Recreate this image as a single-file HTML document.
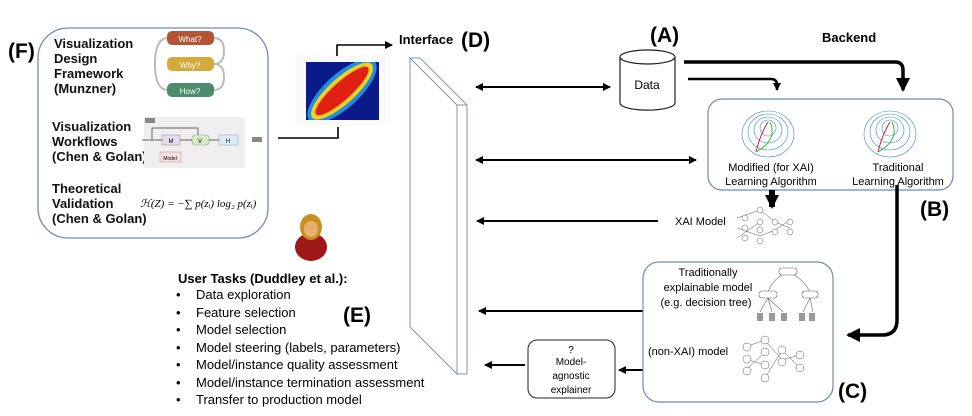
<!DOCTYPE html>
<html><head><meta charset="utf-8"><style>
html,body{margin:0;padding:0;background:#fff;}
svg{display:block;font-family:"Liberation Sans",sans-serif;}
.b{font-weight:bold;}
</style></head><body>
<svg width="972" height="416" viewBox="0 0 972 416" xmlns="http://www.w3.org/2000/svg">
<defs>
<marker id="a" markerWidth="8" markerHeight="8" refX="7" refY="4" orient="auto" markerUnits="userSpaceOnUse"><path d="M0,0 L8,4 L0,8 z" fill="#000"/></marker>
<marker id="ab" markerWidth="14" markerHeight="14" refX="12" refY="7" orient="auto" markerUnits="userSpaceOnUse"><path d="M0,0 L14,7 L0,14 z" fill="#000"/></marker>
<marker id="as" markerWidth="8" markerHeight="8" refX="1" refY="4" orient="auto" markerUnits="userSpaceOnUse"><path d="M8,0 L0,4 L8,8 z" fill="#000"/></marker>
</defs>

<text x="8" y="58" class="b" font-size="21">(F)</text>
<rect x="38" y="28" width="230" height="210" rx="30" fill="#fff" stroke="#6b8cba" stroke-width="1.3"/>
<g class="b" font-size="13" fill="#111">
<text x="54" y="48">Visualization</text><text x="54" y="63">Design</text><text x="54" y="78">Framework</text><text x="54" y="93">(Munzner)</text>
<text x="52" y="131">Visualization</text><text x="52" y="146">Workflows</text><text x="52" y="161">(Chen &amp; Golan)</text>
<text x="52" y="193">Theoretical</text><text x="52" y="208">Validation</text><text x="52" y="223">(Chen &amp; Golan)</text>
</g>
<path d="M168,38 Q155,38 155,64 Q155,90 168,90 M214,38 Q224,38 224,51 Q224,64 214,64 Q224,64 224,77 Q224,90 214,90" fill="none" stroke="#bbb" stroke-width="2"/>
<rect x="167" y="31" width="47" height="14" rx="5" fill="#b35535"/><text x="190" y="42" font-size="8" fill="#fff" text-anchor="middle">What?</text>
<rect x="167" y="57" width="47" height="14" rx="5" fill="#d6a93c"/><text x="190" y="68" font-size="8" fill="#fff" text-anchor="middle">Why?</text>
<rect x="167" y="83" width="47" height="14" rx="5" fill="#4b8b6b"/><text x="190" y="94" font-size="8" fill="#fff" text-anchor="middle">How?</text>
<rect x="144" y="117" width="101" height="51" fill="#efefef"/>
<rect x="162" y="135" width="18" height="10" fill="#e6dcf0" stroke="#99a" stroke-width=".6"/><text x="171" y="143" font-size="6" text-anchor="middle">M</text>
<rect x="192" y="135" width="17" height="10" rx="3" fill="#d7e8c4" stroke="#9a9" stroke-width=".6"/><text x="200" y="143" font-size="6" text-anchor="middle">V</text>
<rect x="219" y="135" width="19" height="10" fill="#dcecf6" stroke="#9ab" stroke-width=".6"/><text x="228" y="143" font-size="6" text-anchor="middle">H</text>
<rect x="160" y="152" width="21" height="10" fill="#f7dede" stroke="#c99" stroke-width=".6"/><text x="170" y="160" font-size="5" text-anchor="middle">Model</text>
<path d="M142,140 H162 M180,140 H192 M209,140 H219 M152,140 V128 H198 V135" fill="none" stroke="#333" stroke-width=".7"/>
<rect x="145" y="118" width="10" height="5" fill="#888"/><rect x="252" y="137" width="10" height="5" fill="#888"/>
<text x="140" y="207" font-family="Liberation Serif,serif" font-size="11" font-style="italic">ℋ(Z) = −∑ p(zᵢ) log₂ p(zᵢ)</text>

<rect x="295" y="55" width="95" height="70" fill="#fafafa"/>
<rect x="306" y="62" width="73" height="58" fill="#0a1a8a"/>
<ellipse cx="342" cy="91" rx="44" ry="17" transform="rotate(-42 342 91)" fill="#1e8fe0"/>
<ellipse cx="342" cy="91" rx="40" ry="13" transform="rotate(-42 342 91)" fill="#f0d020"/>
<ellipse cx="342" cy="91" rx="35" ry="9" transform="rotate(-42 342 91)" fill="#e02010"/>
<rect x="295" y="55" width="11" height="70" fill="#fafafa"/><rect x="379" y="55" width="11" height="70" fill="#fafafa"/>
<rect x="295" y="55" width="95" height="7" fill="#fafafa"/><rect x="295" y="120" width="95" height="5" fill="#fafafa"/>
<polyline points="278,138 338,138 338,127" fill="none" stroke="#000" stroke-width="1.6"/>
<polyline points="337,56 337,45 392,45" fill="none" stroke="#000" stroke-width="1.6" marker-end="url(#a)"/>
<text x="399" y="44" class="b" font-size="13">Interface</text><text x="461" y="47" class="b" font-size="21">(D)</text>

<polygon points="410,58 457,105 457,374 410,327" fill="#fff" stroke="#8a93b0" stroke-width="1"/>
<polygon points="410,58 420,58 467,105 457,105" fill="#fff" stroke="#8a93b0" stroke-width="1"/>
<polygon points="457,105 467,105 467,374 457,374" fill="#fff" stroke="#8a93b0" stroke-width="1"/>

<ellipse cx="311" cy="247" rx="16" ry="14" fill="#a01818"/>
<ellipse cx="311" cy="227" rx="11" ry="13" fill="#c89020"/>
<ellipse cx="311" cy="229" rx="7" ry="8" fill="#e8b070"/>

<g stroke="#000" stroke-width="2" fill="none">
<line x1="476" y1="87" x2="610" y2="87" marker-start="url(#as)" marker-end="url(#a)"/>
<line x1="476" y1="160" x2="696" y2="160" marker-start="url(#as)" marker-end="url(#a)"/>
<line x1="658" y1="221" x2="477" y2="221" marker-end="url(#a)"/>
<line x1="681" y1="311" x2="479" y2="311" marker-end="url(#a)"/>
<line x1="525" y1="365" x2="485" y2="365" marker-end="url(#a)"/>
<line x1="685" y1="370" x2="619" y2="370" marker-end="url(#a)"/>
</g>

<text x="650" y="42" class="b" font-size="21">(A)</text>
<text x="822" y="42" class="b" font-size="13">Backend</text>
<path d="M620,57 V103 A27,7 0 0 0 675,103 V57" fill="#fff" stroke="#222" stroke-width="1.2"/>
<ellipse cx="647.5" cy="57" rx="27.5" ry="7" fill="#fff" stroke="#222" stroke-width="1.2"/>
<text x="647" y="89" font-size="12" text-anchor="middle">Data</text>
<path d="M684,62 H895 Q903,62 903,70 V90" fill="none" stroke="#000" stroke-width="3.5" marker-end="url(#ab)"/>
<path d="M688,79 H771 Q777,79 777,85 V90" fill="none" stroke="#000" stroke-width="2.5" marker-end="url(#a)"/>

<rect x="708" y="99" width="245" height="91" rx="14" fill="#fff" stroke="#6b8cba" stroke-width="1.2"/>
<g fill="none" stroke="#3a86d0" stroke-width=".6">
<ellipse cx="768" cy="128" rx="8" ry="8"/><ellipse cx="768" cy="130" rx="14" ry="13"/><ellipse cx="768" cy="132" rx="20" ry="18"/><ellipse cx="768" cy="134" rx="26" ry="23"/>
<ellipse cx="890" cy="128" rx="8" ry="8"/><ellipse cx="890" cy="130" rx="14" ry="13"/><ellipse cx="890" cy="132" rx="20" ry="18"/><ellipse cx="890" cy="134" rx="26" ry="23"/>
</g>
<path d="M756,152 Q760,135 768,122" stroke="#d02020" fill="none"/><path d="M756,152 Q778,140 770,122" stroke="#30c030" fill="none"/>
<path d="M878,152 Q882,135 890,122" stroke="#d02020" fill="none"/><path d="M878,152 Q900,140 892,122" stroke="#30c030" fill="none"/>
<g font-size="11" text-anchor="middle"><text x="771" y="171">Modified (for XAI)</text><text x="771" y="185">Learning Algorithm</text>
<text x="898" y="171">Traditional</text><text x="898" y="185">Learning Algorithm</text></g>
<line x1="772" y1="190" x2="772" y2="207" stroke="#000" stroke-width="6" marker-end="url(#ab)"/>
<text x="920" y="216" class="b" font-size="21">(B)</text>
<path d="M897,185 V320 Q897,335 882,335 H848" fill="none" stroke="#000" stroke-width="3.5" marker-end="url(#ab)"/>

<text x="675" y="225" font-size="11">XAI Model</text>
<g stroke="#555" stroke-width=".5" fill="#fff">
<path d="M737,218 L760,210 M737,228 L760,236 M737,238 L760,222 M760,210 L775,222 M760,236 L775,230 M775,222 L790,228 M775,230 L790,220" fill="none"/>
<circle cx="745" cy="218" r="3"/><circle cx="745" cy="228" r="3"/><circle cx="745" cy="238" r="3"/>
<circle cx="760" cy="210" r="3"/><circle cx="760" cy="222" r="3"/><circle cx="760" cy="230" r="3"/><circle cx="760" cy="241" r="3"/>
<circle cx="775" cy="222" r="3"/><circle cx="775" cy="232" r="3"/><circle cx="790" cy="222" r="3"/><circle cx="790" cy="232" r="3"/>
</g>

<rect x="643" y="262" width="190" height="140" rx="16" fill="#fff" stroke="#6b8cba" stroke-width="1.2"/>
<g font-size="11" text-anchor="middle"><text x="708" y="276">Traditionally</text><text x="708" y="291">explainable model</text><text x="706" y="306">(e.g. decision tree)</text></g>
<g transform="translate(8,0)">
<g stroke="#666" stroke-width=".6" fill="#fff">
<path d="M780,272 Q765,278 760,292 M780,272 Q795,278 802,292 M760,298 L752,312 M760,298 L764,312 M760,298 L775,312 M802,298 L795,312 M802,298 L805,312" fill="none"/>
<rect x="771" y="268" width="18" height="7" rx="3"/><rect x="751" y="291" width="18" height="7" rx="3"/><rect x="794" y="291" width="16" height="7" rx="3"/>
</g>
<g fill="#999"><rect x="749" y="313" width="6" height="8"/><rect x="761" y="313" width="6" height="8"/><rect x="773" y="313" width="6" height="8"/><rect x="791" y="313" width="6" height="8"/><rect x="801" y="313" width="6" height="8"/></g>
</g>
<text x="648" y="355" font-size="11">(non-XAI) model</text>
<g stroke="#555" stroke-width=".5" fill="#fff">
<path d="M745,347 L765,340 M745,359 L765,365 M745,371 L765,352 M765,340 L782,360 M765,378 L782,350 M782,360 L800,355 M782,350 L800,368" fill="none"/>
<circle cx="747" cy="347" r="4"/><circle cx="747" cy="359" r="4"/><circle cx="747" cy="371" r="4"/>
<circle cx="765" cy="340" r="4"/><circle cx="765" cy="352" r="4"/><circle cx="765" cy="365" r="4"/><circle cx="765" cy="378" r="4"/>
<circle cx="782" cy="350" r="4"/><circle cx="782" cy="362" r="4"/><circle cx="800" cy="355" r="4"/><circle cx="800" cy="368" r="4"/>
</g>
<text x="838" y="398" class="b" font-size="21">(C)</text>

<rect x="528" y="340" width="87" height="58" rx="9" fill="#fff" stroke="#222" stroke-width="1"/>
<g font-size="10" text-anchor="middle"><text x="571" y="353">?</text><text x="571" y="365">Model-</text><text x="571" y="379">agnostic</text><text x="571" y="393">explainer</text></g>

<text x="178" y="283" class="b" font-size="13">User Tasks (Duddley et al.):</text>
<g font-size="13">
<text x="176" y="299">•</text><text x="196" y="299">Data exploration</text>
<text x="176" y="317">•</text><text x="196" y="317">Feature selection</text>
<text x="176" y="334">•</text><text x="196" y="334">Model selection</text>
<text x="176" y="352">•</text><text x="196" y="352">Model steering (labels, parameters)</text>
<text x="176" y="369">•</text><text x="196" y="369">Model/instance quality assessment</text>
<text x="176" y="387">•</text><text x="196" y="387">Model/instance termination assessment</text>
<text x="176" y="404">•</text><text x="196" y="404">Transfer to production model</text>
</g>
<text x="343" y="322" class="b" font-size="21">(E)</text>
</svg>
</body></html>
